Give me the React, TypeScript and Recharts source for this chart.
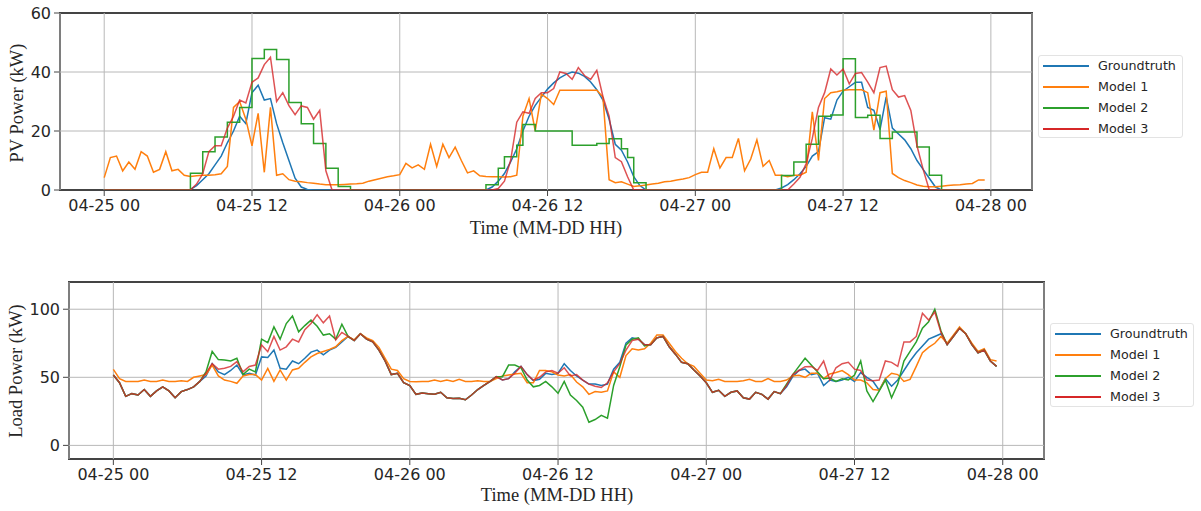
import { LineChart, Line, XAxis, YAxis, CartesianGrid } from "recharts";

// half-hour samples, 04-25 00:00 .. 04-27 23:30
const STEP_HOURS = 0.5;
const X_DOMAIN: [number, number] = [-3.59, 75.34];
const X_TICKS = [0, 12, 24, 36, 48, 60, 72];
const X_TICK_LABELS = ["04-25 00", "04-25 12", "04-26 00", "04-26 12", "04-27 00", "04-27 12", "04-28 00"];
const SERIES_NAMES = ["Groundtruth", "Model 1", "Model 2", "Model 3"];
const COLORS = ["#1f77b4", "#ff7f0e", "#2ca02c", "#d62728"];

const PV_TICKS = [0, 20, 40, 60];
const LOAD_TICKS = [0, 50, 100];

// PV power (kW)
const pvGroundtruth = [
  0, 0, 0, 0, 0, 0, 0, 0, 0, 0, 0, 0, 0, 0, 0.2, 1.5, 3.5, 5.5, 8.5, 11.5, 16, 20, 25, 22.5,
  33, 35.5, 30.5, 31, 22.5, 16, 10, 4, 1, 0.2, 0, 0, 0, 0, 0, 0, 0, 0, 0, 0, 0, 0, 0, 0,
  0, 0, 0, 0, 0, 0, 0, 0, 0, 0, 0, 0, 0, 0, 0, 1, 3, 5.6, 9.5, 14, 20, 25, 28.7, 31.5,
  34.2, 36.3, 38, 39.2, 40, 39.6, 38.5, 36.6, 34, 30.5, 24, 15.5, 13.5, 9.5, 4.5, 1.5, 0, 0, 0, 0, 0, 0, 0, 0,
  0, 0, 0, 0, 0, 0, 0, 0, 0, 0, 0, 0, 0, 0, 0.7, 1.8, 3.5, 5.5, 8, 11.5, 13, 24.5, 24, 30.5,
  33.5, 35, 36.5, 36.5, 28, 27, 20.5, 31.6, 21, 19, 17, 14, 10, 7, 4, 1, 0, 0, 0, 0, 0, 0, 0, 0,
];
const pvModel1 = [
  4.2, 11, 11.5, 6.5, 9.5, 7, 13, 11.5, 6, 7, 13, 6.5, 7, 5, 4.6, 4.8, 5, 5, 5.2, 5.5, 8, 28, 30, 24,
  15, 26, 6, 28, 5, 5.5, 3.5, 3, 2.8, 2.5, 2.3, 2, 1.8, 1.8, 1.8, 1.9, 2, 2.1, 2.3, 3, 3.5, 4, 4.5, 4.8,
  5.2, 9, 7.5, 8.5, 7, 15.5, 8, 15.5, 11, 14.5, 10, 5.8, 6.5, 4.8, 4.6, 4.5, 4.5, 4.4, 4.5, 5, 25, 31, 20, 32.5,
  31, 29, 33.8, 33.8, 33.8, 33.8, 33.8, 33.8, 33.8, 31.5, 3.5, 2.5, 2.8, 2, 1.2, 1.4, 1.7, 2, 2.3, 2.8, 3, 3.4, 3.7, 4.2,
  5.2, 6, 6, 14, 7.5, 11, 11, 17.5, 6.5, 10.5, 17, 8, 10, 5, 5, 4.5, 5, 5, 6, 26.5, 10, 31, 33, 33.3,
  33.8, 34, 34, 34, 33, 20.3, 33, 33.5, 5.6, 4.2, 3.2, 2.5, 1.7, 1.3, 1.1, 1.1, 1.3, 1.5, 1.7, 1.8, 2, 2.2, 3.4, 3.4,
];
const pvModel2 = [
  0, 0, 0, 0, 0, 0, 0, 0, 0, 0, 0, 0, 0, 0, 5.7, 5.7, 13, 13, 18, 18, 23, 23, 28, 28,
  44.6, 44.6, 47.6, 47.6, 44.2, 44.2, 29.7, 29.7, 22.5, 22.5, 15.8, 15.8, 7.4, 7.4, 1.2, 1.2, 0, 0, 0, 0, 0, 0, 0, 0,
  0, 0, 0, 0, 0, 0, 0, 0, 0, 0, 0, 0, 0, 0, 1.8, 1.8, 7.4, 11.3, 11.3, 15.2, 22.2, 22.2, 20, 20,
  20, 20, 20, 20, 15.2, 15.2, 15.2, 15.2, 15.8, 15.8, 17.4, 17.4, 14, 11, 2.5, 2.5, 0, 0, 0, 0, 0, 0, 0, 0,
  0, 0, 0, 0, 0, 0, 0, 0, 0, 0, 0, 0, 0, 0, 4.9, 4.9, 9.5, 9.5, 15.5, 15.5, 25, 25, 25.4, 25.4,
  44.5, 44.5, 24.6, 24.6, 25.3, 25.3, 17.5, 17.5, 19.7, 19.7, 19.7, 19.7, 14.6, 14.6, 5, 5, 0, 0, 0, 0, 0, 0, 0, 0,
];
const pvModel3 = [
  0, 0, 0, 0, 0, 0, 0, 0, 0, 0, 0, 0, 0, 0, 0, 2, 5.5, 13, 15, 15, 21, 25, 30.5, 29.5,
  36.5, 38, 42.5, 45, 30, 33, 28.6, 25.5, 28.5, 28, 24, 27, 6.5, 0, 0, 0, 0, 0, 0, 0, 0, 0, 0, 0,
  0, 0, 0, 0, 0, 0, 0, 0, 0, 0, 0, 0, 0, 0, 0, 0, 0.5, 3, 10, 23, 26.5, 26, 31, 33,
  33, 34.4, 40, 39.5, 37.5, 41.5, 38.8, 37.5, 40.6, 31.6, 25, 11, 9.6, 4.5, 0, 0, 0, 0, 0, 0, 0, 0, 0, 0,
  0, 0, 0, 0, 0, 0, 0, 0, 0, 0, 0, 0, 0, 0, 0, 0, 2, 4.3, 9, 17.5, 28, 33, 41, 39,
  41, 36, 39.5, 39.8, 36.6, 33, 41.5, 42, 34, 31.5, 32, 27, 15, 7, 0, 0, 0, 0, 0, 0, 0, 0, 0, 0,
];

// Load power (kW)
const loadGroundtruth = [
  51.7, 46, 36, 38, 37, 41, 36, 40, 43, 40, 35, 39.5, 41, 43, 47, 51, 60, 54, 52, 55, 59, 51.7, 53, 51.7,
  65, 64.5, 70, 56.6, 56, 62, 60, 64, 68.5, 70, 66.5, 70, 72, 76, 80, 77, 82, 78, 76, 70, 62, 52, 53, 46,
  44, 37.5, 38.5, 38, 37.5, 39, 35, 34.5, 34.6, 33.5, 37, 41, 44, 47, 50.5, 48, 49, 54, 58, 52, 47.5, 48.5, 52.9, 52,
  53, 60, 55, 51, 48, 45, 45, 44, 45, 56, 61, 75, 79, 78, 74, 74, 79, 80, 72.4, 67, 61, 60, 55.4, 51,
  46, 39, 40.5, 36, 39, 40, 35, 34, 39, 37.5, 34, 39.5, 38, 43, 50.5, 55, 56, 52, 53, 44, 48, 47, 48, 50,
  47, 53.5, 50, 47, 40.5, 49, 43.5, 48, 55, 62, 68, 73, 78, 80, 82, 74, 80, 86, 82, 74, 68, 70, 62, 58,
];
const loadModel1 = [
  55.8, 49, 47, 47, 47, 48, 47, 47, 48, 47, 47, 47.5, 47, 50, 51, 52, 59, 51, 48, 47, 45.6, 51, 52, 52,
  48, 56.6, 47, 55.4, 48, 55.4, 56.6, 61, 65, 67.5, 69, 70.5, 72.4, 77, 80, 77.5, 82, 79, 77, 72, 64, 56, 55, 49,
  47, 46.8, 47, 47, 48, 47, 48, 47, 48.5, 47, 47, 47.5, 47, 47, 49, 51, 51.7, 52.5, 53, 46, 46, 55, 55, 54,
  51.7, 51, 52, 46.5, 43, 37.5, 39.5, 39, 40, 54, 50, 66, 71, 70, 71, 75, 81, 81, 75, 69, 64, 60, 58, 53,
  48, 47.5, 48.5, 47, 47, 47, 47.5, 48.5, 47, 47, 49, 47, 47, 48, 51, 51.5, 50, 53, 53, 49, 52.5, 53.5, 55, 52,
  48, 48, 46, 41, 40.5, 49, 53, 52, 47, 48.5, 58, 68, 72, 75, 80, 75, 81, 87, 82, 75, 69, 71, 63, 62,
];
const loadModel2 = [
  51.7, 46, 36, 38, 37, 41, 36, 40, 43, 40, 35, 39.5, 41, 43, 47, 54, 69, 63, 62.7, 62, 64, 52, 56, 54,
  78, 75.5, 87, 78, 89.5, 95, 83.4, 88, 92, 87.5, 81, 82, 78, 89, 80, 77, 82, 78, 76, 70, 62, 52, 53, 46,
  44, 37.5, 38.5, 38, 37.5, 39, 35, 34.5, 34.6, 33.5, 37, 41, 44, 47, 50.5, 50.5, 59, 59, 57, 48, 43, 44, 47, 43,
  38.3, 47, 37, 33, 28, 17, 19, 22, 20, 44, 57.8, 73.7, 78, 79, 73, 74, 79, 80, 72.4, 67, 61, 60, 55.4, 51,
  46, 39, 40.5, 36, 39, 40, 35, 34, 39, 37.5, 34, 39.5, 38, 45, 52, 58, 64, 59, 54, 49, 49.5, 47, 49, 48,
  51.7, 62, 40, 32.2, 40, 48, 35, 45, 62, 69, 76, 86, 90.7, 100, 84, 74, 80, 86, 82, 74, 68, 70, 62, 58,
];
const loadModel3 = [
  51.7, 46, 36, 38, 37, 41, 36, 40, 43, 40, 35, 39.5, 41, 43, 47, 53, 60, 56, 56.6, 58, 61.5, 54, 58, 59,
  73.7, 68.8, 80, 70, 72.4, 78, 76, 85, 89.5, 96, 90, 95, 77.5, 83, 80, 77, 82, 78, 76, 70, 62, 52, 53, 46,
  44, 37.5, 38.5, 38, 37.5, 39, 35, 34.5, 34.6, 33.5, 37, 41, 44, 47, 50.5, 48, 49, 53, 58, 52, 48, 50, 54, 55,
  53, 57, 51, 52, 48, 45, 43.5, 42.5, 46, 54, 60, 70, 77, 78, 74, 74, 79, 80, 72.4, 67, 61, 60, 55.4, 51,
  46, 39, 40.5, 36, 39, 40, 35, 34, 39, 37.5, 34, 39.5, 38, 44, 52, 55, 57.8, 58, 55, 62, 48, 57, 60, 61,
  56, 55, 48, 47.5, 48, 62, 61, 58, 76, 76, 80, 97, 92, 98, 83, 74, 80, 86, 82, 74, 68, 70, 62, 58,
];

const FRAME = "#444";
const GRID = "#b8b8b8";
const TEXT = "#262626";
const SANS = "'DejaVu Sans', sans-serif";
const SERIF = "'Liberation Serif', 'Times New Roman', serif";
const CHART_W = 1201;
const Y_AXIS_W = 50;
const X_AXIS_H = 30;

function buildRows(series: number[][]) {
  return series[0].map((_, i) => {
    const row: Record<string, number> = { t: i * STEP_HOURS };
    series.forEach((s, k) => {
      row[`s${k}`] = s[i];
    });
    return row;
  });
}

const pvRows = buildRows([pvGroundtruth, pvModel1, pvModel2, pvModel3]);
const loadRows = buildRows([loadGroundtruth, loadModel1, loadModel2, loadModel3]);

function Panel({ rows, top, height, margin, yDomain, yTicks, stepSeries }: any) {
  // spines sit behind the svg so that series lying on zero stay visible
  const plotLeft = margin.left + Y_AXIS_W;
  const plotTop = margin.top;
  const plotW = CHART_W - plotLeft - margin.right;
  const plotH = height - margin.top - margin.bottom - X_AXIS_H;
  // horizontal grid only where it does not sit on a spine
  const gridRows = yTicks
    .filter((v: number) => v > yDomain[0] && v < yDomain[1])
    .map((v: number) => plotTop + ((yDomain[1] - v) / (yDomain[1] - yDomain[0])) * plotH);
  return (
    <div style={{ position: "absolute", left: 0, top, width: CHART_W, height }}>
      <div
        style={{
          position: "absolute",
          left: plotLeft - 1,
          top: plotTop - 1,
          width: plotW + 2,
          height: plotH + 2,
          boxSizing: "border-box",
          border: `2px solid ${FRAME}`,
        }}
      />
      <div style={{ position: "absolute", left: 0, top: 0 }}>
        <LineChart width={CHART_W} height={height} data={rows} margin={margin}>
          <CartesianGrid stroke={GRID} strokeWidth={1} horizontalPoints={gridRows} />
          <XAxis
            dataKey="t"
            type="number"
            domain={X_DOMAIN}
            ticks={X_TICKS}
            interval={0}
            allowDataOverflow
            tickFormatter={(v) => X_TICK_LABELS[X_TICKS.indexOf(v)] ?? ""}
            tick={{ fill: TEXT, fontSize: 16, fontFamily: SANS }}
            tickSize={5}
            tickMargin={5}
            height={X_AXIS_H}
            axisLine={false}
            tickLine={{ stroke: FRAME, transform: "translate(0, 1)" }}
          />
          <YAxis
            type="number"
            domain={yDomain}
            ticks={yTicks}
            interval={0}
            allowDataOverflow
            width={Y_AXIS_W}
            tick={{ fill: TEXT, fontSize: 16, fontFamily: SANS }}
            tickSize={5}
            tickMargin={4}
            axisLine={false}
            tickLine={{ stroke: FRAME, transform: "translate(-1, 0)" }}
          />
          {SERIES_NAMES.map((name, k) => (
            <Line
              key={name}
              name={name}
              dataKey={`s${k}`}
              type={stepSeries === k ? "stepAfter" : "linear"}
              stroke={COLORS[k]}
              strokeWidth={1.5}
              strokeOpacity={k === 3 ? 0.8 : 1}
              dot={false}
              activeDot={false}
              isAnimationActive={false}
            />
          ))}
        </LineChart>
      </div>
    </div>
  );
}

function LegendBox({ left, top, width, height }: any) {
  return (
    <div
      style={{
        position: "absolute",
        left,
        top,
        width,
        height,
        boxSizing: "border-box",
        border: "1px solid #e3e3e3",
        borderRadius: 3,
        background: "#fff",
        fontFamily: SANS,
        fontSize: 12.7,
        color: TEXT,
      }}
    >
      {SERIES_NAMES.map((name, k) => (
        <div key={name} style={{ position: "absolute", left: 0, top: 10 + k * 21 }}>
          <div
            style={{
              position: "absolute",
              left: 4,
              top: -1,
              width: 46,
              height: 1.6,
              background: COLORS[k],
            }}
          />
          <span
            style={{
              position: "absolute",
              left: 59,
              top: 0,
              transform: "translateY(-50%)",
              whiteSpace: "nowrap",
              lineHeight: 1,
            }}
          >
            {name}
          </span>
        </div>
      ))}
    </div>
  );
}

function AxisLabel({ x, y, text, rotate }: any) {
  return (
    <div
      style={{
        position: "absolute",
        left: x,
        top: y,
        transform: `translate(-50%, -50%)${rotate ? " rotate(-90deg)" : ""}`,
        fontFamily: SERIF,
        fontSize: 18.5,
        color: TEXT,
        whiteSpace: "nowrap",
        lineHeight: 1,
      }}
    >
      {text}
    </div>
  );
}

export default function App() {
  return (
    <div
      style={{
        position: "absolute",
        left: 0,
        top: 0,
        width: 1201,
        height: 511,
        background: "#fff",
        overflow: "hidden",
      }}
    >
      <Panel
        rows={pvRows}
        top={0}
        height={250}
        margin={{ top: 13, right: 169, left: 10, bottom: 30 }}
        yDomain={[0, 60]}
        yTicks={PV_TICKS}
        stepSeries={2}
      />
      <Panel
        rows={loadRows}
        top={250}
        height={261}
        margin={{ top: 32, right: 157, left: 19, bottom: 22 }}
        yDomain={[-10, 120]}
        yTicks={LOAD_TICKS}
        stepSeries={-1}
      />
      <AxisLabel x={17} y={103} text="PV Power (kW)" rotate />
      <AxisLabel x={546} y={228} text="Time (MM-DD HH)" />
      <AxisLabel x={16} y={371} text="Load Power (kW)" rotate />
      <AxisLabel x={557} y={495} text="Time (MM-DD HH)" />
      <LegendBox left={1038} top={55} width={145} height={83} />
      <LegendBox left={1050} top={323} width={144} height={84} />
    </div>
  );
}
